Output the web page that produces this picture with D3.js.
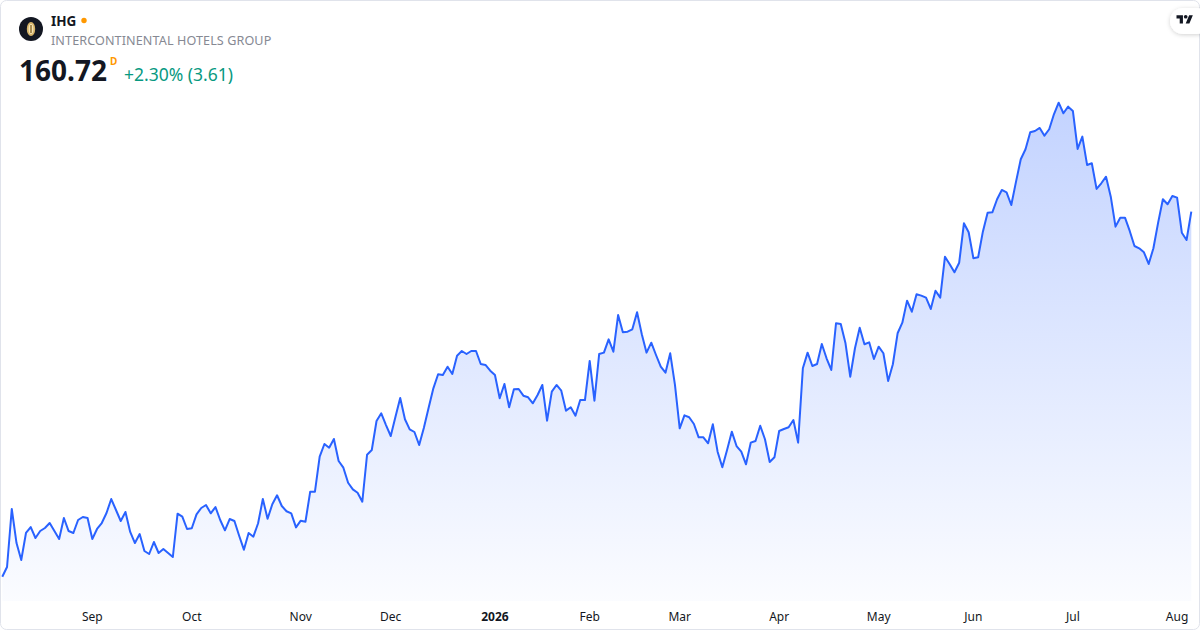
<!DOCTYPE html>
<html>
<head>
<meta charset="utf-8">
<script src="https://cdn.jsdelivr.net/npm/d3@7"></script>
<style>
  html,body{margin:0;padding:0;background:#fff}
  svg{display:block;font-family:"Noto Sans","Open Sans",sans-serif}
</style>
</head>
<body>
<svg id="chart" width="1200" height="630"></svg>
<script>
const closes=[
  114.16,115.40,122.80,118.46,116.29,119.74,120.50,119.10,119.99,120.38,
  121.01,119.99,118.97,121.65,119.99,119.74,121.40,121.78,121.65,118.97,
  120.25,121.01,122.29,124.07,122.67,121.27,122.42,119.87,118.46,119.61,
  117.44,117.06,118.59,117.19,117.70,117.19,116.68,122.20,121.82,120.25,
  120.34,122.12,122.93,123.31,122.25,123.05,121.40,120.08,121.52,121.27,
  119.39,117.61,119.74,119.27,120.98,124.07,121.56,123.40,124.55,123.18,
  122.51,122.25,120.46,121.31,121.18,125.01,125.01,129.47,131.09,130.62,
  131.73,128.92,128.07,126.15,125.31,124.88,123.73,129.72,130.32,134.02,
  135.01,133.51,132.11,134.57,136.96,134.24,132.96,132.62,130.96,133.17,
  135.72,138.19,139.98,139.89,140.95,140.02,142.35,142.95,142.57,142.95,
  142.95,141.29,141.17,140.44,139.89,136.92,138.74,135.77,138.07,138.11,
  137.25,137.05,136.28,137.34,138.62,134.06,137.76,138.62,137.89,135.34,
  135.77,134.70,136.70,136.70,141.68,136.61,142.57,142.74,144.44,142.86,
  147.54,145.34,145.41,145.72,147.89,145.08,142.74,144.01,142.44,140.95,
  140.18,142.66,138.62,133.09,134.75,134.50,133.64,131.94,131.94,131.18,
  133.60,130.11,128.12,130.32,132.66,130.83,130.11,128.50,131.26,131.47,
  133.42,131.69,128.79,129.39,132.75,133.00,133.22,134.15,131.26,140.75,
  142.74,141.04,141.29,143.84,142.02,140.53,146.49,146.40,143.93,139.67,
  143.30,145.92,143.81,144.06,141.93,143.50,142.66,139.13,141.26,145.21,
  146.56,149.37,147.96,150.18,150.01,149.75,148.31,150.64,149.75,154.98,
  154.01,152.99,154.21,159.24,158.09,154.78,154.90,158.17,160.59,160.64,
  162.30,163.49,163.19,161.57,164.55,167.40,168.68,170.85,171.01,171.40,
  170.41,171.23,173.14,174.62,173.27,174.11,173.56,168.72,170.29,166.68,
  166.89,163.62,164.34,165.18,162.63,158.81,159.95,159.95,158.26,156.34,
  156.05,155.54,154.05,156.05,159.32,162.30,161.66,162.72,162.51,158.04,
  157.11,160.72
]
const tickIdx=[19,40,63,82,104,124,143,164,185,205,226,248]
const tickText=['Sep','Oct','Nov','Dec','2026','Feb','Mar','Apr','May','Jun','Jul','Aug']
const yearTicks=['2026']
const symbol='IHG'
const company='INTERCONTINENTAL HOTELS GROUP'
const lastPrice='160.72'
const changeText='+2.30% (3.61)'

const svg=d3.select('#chart')
const W=1200,H=630
const blue='#2962ff'

svg.append('rect')
  .attr('x',0.5).attr('y',0.5)
  .attr('width',W-1).attr('height',H-1)
  .attr('rx',6)
  .attr('fill','#fff')
  .attr('stroke','#e0e3eb')

const x=d3.scaleLinear().domain([0,closes.length-1]).range([2.3,1191.3])
const y=d3.scaleLinear().domain([114,175]).range([578,99.7])
const baseY=601

const defs=svg.append('defs')
const grad=defs.append('linearGradient')
  .attr('id','areaFill')
  .attr('gradientUnits','userSpaceOnUse')
  .attr('x1',0).attr('x2',0)
  .attr('y1',y(d3.max(closes))).attr('y2',baseY)
grad.append('stop').attr('offset',0).attr('stop-color',blue).attr('stop-opacity',0.28)
grad.append('stop').attr('offset',1).attr('stop-color',blue).attr('stop-opacity',0.02)

const shadow=defs.append('filter').attr('id','pillShadow')
  .attr('x','-50%').attr('y','-50%').attr('width','200%').attr('height','200%')
shadow.append('feDropShadow')
  .attr('dx',0).attr('dy',1).attr('stdDeviation',2)
  .attr('flood-color','#000').attr('flood-opacity',0.18)

const area=d3.area()
  .x((d,i)=>x(i))
  .y0(baseY)
  .y1(d=>y(d))
const line=d3.line()
  .x((d,i)=>x(i))
  .y(d=>y(d))

const plot=svg.append('g').attr('class','plot')
plot.append('path')
  .datum(closes)
  .attr('d',area)
  .attr('fill','url(#areaFill)')
plot.append('path')
  .datum(closes)
  .attr('d',line)
  .attr('fill','none')
  .attr('stroke',blue)
  .attr('stroke-width',2)
  .attr('stroke-linejoin','round')

// month labels along the bottom
svg.append('g')
  .attr('class','xlabels')
  .selectAll('text')
  .data(tickIdx)
  .enter()
  .append('text')
  .attr('x',d=>x(d))
  .attr('y',621)
  .attr('text-anchor','middle')
  .attr('font-size',12)
  .attr('fill','#131722')
  .attr('font-weight',(d,i)=>yearTicks.includes(tickText[i])?700:400)
  .text((d,i)=>tickText[i])

// header
const head=svg.append('g').attr('class','header')
head.append('circle').attr('cx',31).attr('cy',29).attr('r',12).attr('fill','#131722')
head.append('ellipse').attr('cx',31).attr('cy',29).attr('rx',4.2).attr('ry',7)
  .attr('fill','#d7b46a')
head.append('ellipse').attr('cx',31).attr('cy',29).attr('rx',2.4).attr('ry',5)
  .attr('fill','#f3e3b5')
head.append('rect').attr('x',30.3).attr('y',25).attr('width',1.4).attr('height',8)
  .attr('fill','#8a6a2a')

head.append('text')
  .attr('x',51).attr('y',25.5)
  .attr('font-size',13.5).attr('font-weight',700)
  .attr('fill','#131722')
  .text(symbol)
head.append('circle').attr('cx',84).attr('cy',20.5).attr('r',2.7).attr('fill','#ff9800')
head.append('text')
  .attr('x',51).attr('y',45)
  .attr('font-size',12.6)
  .attr('letter-spacing',0.1)
  .attr('fill','#868993')
  .text(company)

head.append('text')
  .attr('x',19).attr('y',81)
  .attr('font-size',28).attr('font-weight',700)
  .attr('fill','#131722')
  .text(lastPrice)
head.append('text')
  .attr('x',110).attr('y',65)
  .attr('font-size',10).attr('font-weight',700)
  .attr('fill','#ff9800')
  .text('D')
head.append('text')
  .attr('x',124).attr('y',81)
  .attr('font-size',17.5)
  .attr('fill','#089981')
  .text(changeText)

// tradingview badge
const badge=svg.append('g').attr('class','badge')
badge.append('rect')
  .attr('x',1170).attr('y',8).attr('width',40).attr('height',26).attr('rx',13)
  .attr('fill','#fff')
  .attr('filter','url(#pillShadow)')
const tv=badge.append('g').attr('transform','translate(1176.5,13.5) scale(0.46)')
tv.append('path')
  .attr('d','M14 22H7V11H0V4h14v18zM28 22h-8l7.5-18h8L28 22z')
  .attr('fill','#131722')
tv.append('circle').attr('cx',20).attr('cy',7).attr('r',4).attr('fill','#131722')
</script>
</body>
</html>
